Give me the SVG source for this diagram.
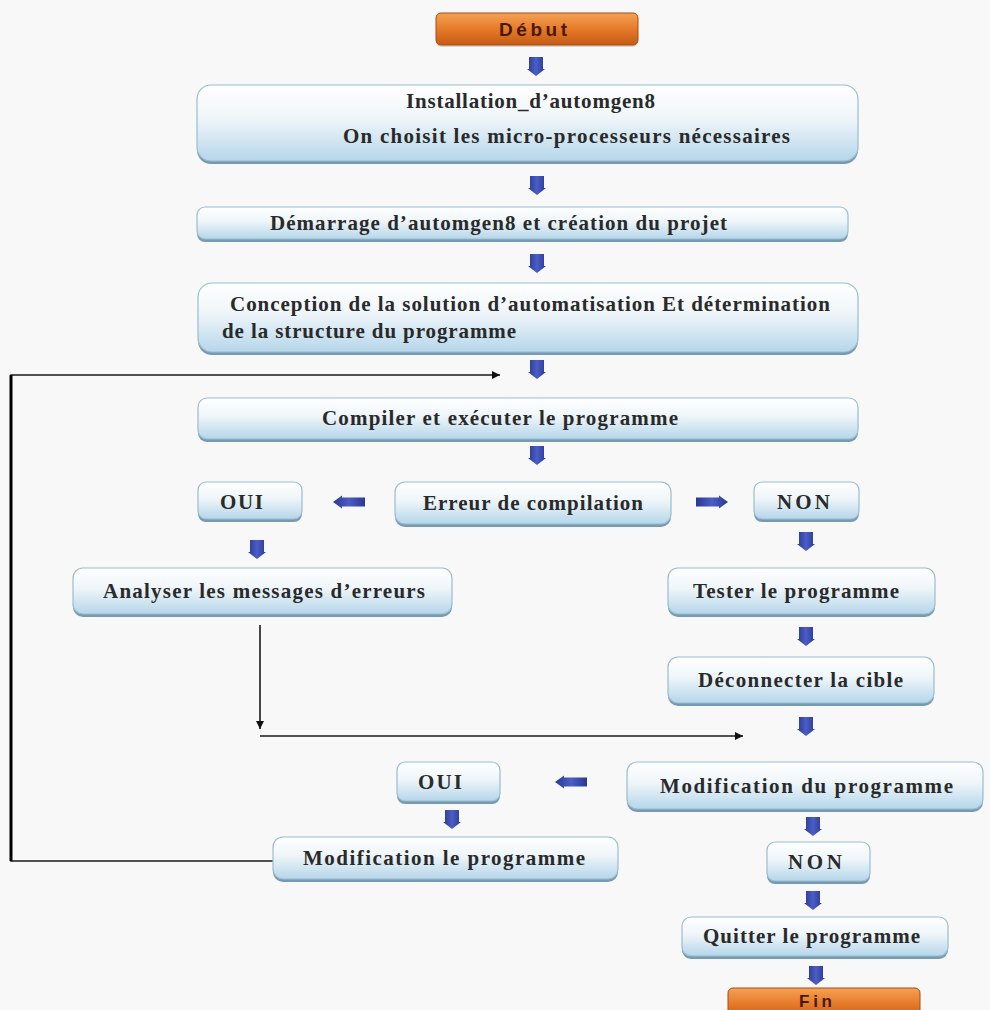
<svg xmlns="http://www.w3.org/2000/svg" xmlns:xlink="http://www.w3.org/1999/xlink" width="990" height="1010" viewBox="0 0 990 1010">
<style>
.box{fill:url(#gBox);stroke:#9cbccf;stroke-width:1.2}
.sh{fill:#5f8aa5;opacity:0.85}
.start{fill:url(#gOrange);stroke:#a84c12;stroke-width:1}
.t{font-family:"Liberation Serif","Times New Roman",serif;font-weight:bold;font-size:21px;fill:#2a2a2a}
.ts{font-family:"Liberation Sans",Arial,sans-serif;font-weight:bold;font-size:19px;fill:#4a1808}
.ln{fill:none;stroke:#1a1a1a;stroke-width:1.6}
.barrow{fill:url(#gBlue)}
</style>
<defs>
<linearGradient id="gBox" x1="0" y1="0" x2="0" y2="1">
<stop offset="0" stop-color="#ffffff"/>
<stop offset="0.45" stop-color="#eef5f9"/>
<stop offset="1" stop-color="#b5d6ea"/>
</linearGradient>
<linearGradient id="gOrange" x1="0" y1="0" x2="0" y2="1">
<stop offset="0" stop-color="#f4a256"/>
<stop offset="0.5" stop-color="#e67a2a"/>
<stop offset="1" stop-color="#c55a14"/>
</linearGradient>
<linearGradient id="gBlue" x1="0" y1="0" x2="1" y2="0">
<stop offset="0" stop-color="#2a3890"/>
<stop offset="0.5" stop-color="#4a5ec6"/>
<stop offset="1" stop-color="#2a3890"/>
</linearGradient>
<path id="bdown" class="barrow" d="M-7,0 H7 V12 H9 L0,19 L-9,12 H-7 Z"/>
<path id="bleft" class="barrow" d="M0,0 L9,-6.5 V-4.5 H32 V4.5 H9 V6.5 Z"/>
<path id="bright" class="barrow" d="M0,0 L-9,-6.5 V-4.5 H-32 V4.5 H-9 V6.5 Z"/>
<marker id="ah" viewBox="0 0 10 10" refX="10" refY="5" markerWidth="10" markerHeight="8" markerUnits="userSpaceOnUse" orient="auto">
<path d="M0,0 L10,5 L0,10 Z" fill="#111"/>
</marker>
</defs>
<rect width="990" height="1010" fill="#f7f8f7"/>

<g id="connectors">
<polyline class="ln" points="273,861 11,861 11,375 500,375" marker-end="url(#ah)"/>
<line x1="11" y1="375" x2="11" y2="861" stroke="#000" stroke-width="3"/>
<line class="ln" x1="260" y1="625" x2="260" y2="729" marker-end="url(#ah)"/>
<line class="ln" x1="260" y1="736" x2="743" y2="736" marker-end="url(#ah)"/>
<use xlink:href="#bdown" x="536" y="57"/>
<use xlink:href="#bdown" x="537" y="176"/>
<use xlink:href="#bdown" x="537" y="254"/>
<use xlink:href="#bdown" x="537" y="360"/>
<use xlink:href="#bdown" x="537" y="446"/>
<use xlink:href="#bdown" x="257" y="540"/>
<use xlink:href="#bdown" x="806" y="532"/>
<use xlink:href="#bdown" x="806" y="627"/>
<use xlink:href="#bdown" x="806" y="717"/>
<use xlink:href="#bdown" x="452" y="810"/>
<use xlink:href="#bdown" x="813" y="817"/>
<use xlink:href="#bdown" x="813" y="891"/>
<use xlink:href="#bdown" x="816" y="966"/>
<use xlink:href="#bleft" x="333" y="502"/>
<use xlink:href="#bright" x="728" y="502"/>
<use xlink:href="#bleft" x="555" y="782"/>
</g>

<g id="debut">
<rect x="436" y="15" width="202" height="32" rx="5" fill="#9a9a9a" opacity="0.35"/>
<rect class="start" x="436" y="13" width="202" height="32" rx="5"/>
<text class="ts" x="499" y="36" textLength="68" lengthAdjust="spacing">Début</text>
</g>

<g id="installation">
<rect class="sh" x="197" y="87" width="661" height="77" rx="14"/>
<rect class="box" x="197" y="85" width="661" height="76" rx="14"/>
<text class="t" x="406" y="108" textLength="249" lengthAdjust="spacing">Installation_d’automgen8</text>
<text class="t" x="343" y="143" textLength="447" lengthAdjust="spacing">On choisit les micro-processeurs nécessaires</text>
</g>

<g id="demarrage">
<rect class="sh" x="197" y="209" width="651" height="33" rx="8"/>
<rect class="box" x="197" y="207" width="651" height="32" rx="8"/>
<text class="t" x="270" y="230" textLength="457" lengthAdjust="spacing">Démarrage d’automgen8 et création du projet</text>
</g>

<g id="conception">
<rect class="sh" x="198" y="285" width="660" height="70" rx="14"/>
<rect class="box" x="198" y="283" width="660" height="69" rx="14"/>
<text class="t" x="230" y="311" textLength="600" lengthAdjust="spacing">Conception de la solution d’automatisation Et détermination</text>
<text class="t" x="222" y="338" textLength="294" lengthAdjust="spacing">de la structure du programme</text>
</g>

<g id="compiler">
<rect class="sh" x="198" y="400" width="660" height="42" rx="9"/>
<rect class="box" x="198" y="398" width="660" height="41" rx="9"/>
<text class="t" x="322" y="425" textLength="356" lengthAdjust="spacing">Compiler et exécuter le programme</text>
</g>

<g id="oui1">
<rect class="sh" x="198" y="484" width="104" height="38" rx="8"/>
<rect class="box" x="198" y="482" width="104" height="37" rx="8"/>
<text class="t" x="220" y="509" textLength="43" lengthAdjust="spacing">OUI</text>
</g>

<g id="erreur">
<rect class="sh" x="395" y="484" width="276" height="43" rx="10"/>
<rect class="box" x="395" y="482" width="276" height="42" rx="10"/>
<text class="t" x="423" y="510" textLength="220" lengthAdjust="spacing">Erreur de compilation</text>
</g>

<g id="non1">
<rect class="sh" x="754" y="484" width="105" height="38" rx="8"/>
<rect class="box" x="754" y="482" width="105" height="37" rx="8"/>
<text class="t" x="777" y="509" textLength="53" lengthAdjust="spacing">NON</text>
</g>

<g id="analyser">
<rect class="sh" x="73" y="570" width="379" height="47" rx="10"/>
<rect class="box" x="73" y="568" width="379" height="46" rx="10"/>
<text class="t" x="103" y="598" textLength="322" lengthAdjust="spacing">Analyser les messages d’erreurs</text>
</g>

<g id="tester">
<rect class="sh" x="668" y="570" width="267" height="47" rx="10"/>
<rect class="box" x="668" y="568" width="267" height="46" rx="10"/>
<text class="t" x="693" y="598" textLength="206" lengthAdjust="spacing">Tester le programme</text>
</g>

<g id="deconnecter">
<rect class="sh" x="668" y="659" width="266" height="47" rx="10"/>
<rect class="box" x="668" y="657" width="266" height="46" rx="10"/>
<text class="t" x="698" y="687" textLength="205" lengthAdjust="spacing">Déconnecter la cible</text>
</g>

<g id="modif-du">
<rect class="sh" x="627" y="764" width="356" height="48" rx="10"/>
<rect class="box" x="627" y="762" width="356" height="47" rx="10"/>
<text class="t" x="660" y="793" textLength="293" lengthAdjust="spacing">Modification  du  programme</text>
</g>

<g id="oui2">
<rect class="sh" x="397" y="764" width="103" height="40" rx="8"/>
<rect class="box" x="397" y="762" width="103" height="39" rx="8"/>
<text class="t" x="418" y="789" textLength="44" lengthAdjust="spacing">OUI</text>
</g>

<g id="modif-le">
<rect class="sh" x="273" y="839" width="345" height="43" rx="10"/>
<rect class="box" x="273" y="837" width="345" height="42" rx="10"/>
<text class="t" x="303" y="865" textLength="282" lengthAdjust="spacing">Modification  le programme</text>
</g>

<g id="non2">
<rect class="sh" x="767" y="844" width="103" height="40" rx="8"/>
<rect class="box" x="767" y="842" width="103" height="39" rx="8"/>
<text class="t" x="788" y="869" textLength="54" lengthAdjust="spacing">NON</text>
</g>

<g id="quitter">
<rect class="sh" x="682" y="919" width="266" height="40" rx="9"/>
<rect class="box" x="682" y="917" width="266" height="39" rx="9"/>
<text class="t" x="703" y="943" textLength="217" lengthAdjust="spacing">Quitter le programme</text>
</g>

<g id="fin">
<rect class="start" x="728" y="988" width="192" height="32" rx="5"/>
<text class="ts" x="799" y="1007" textLength="33" lengthAdjust="spacing" style="font-size:17px">Fin</text>
</g>
</svg>
